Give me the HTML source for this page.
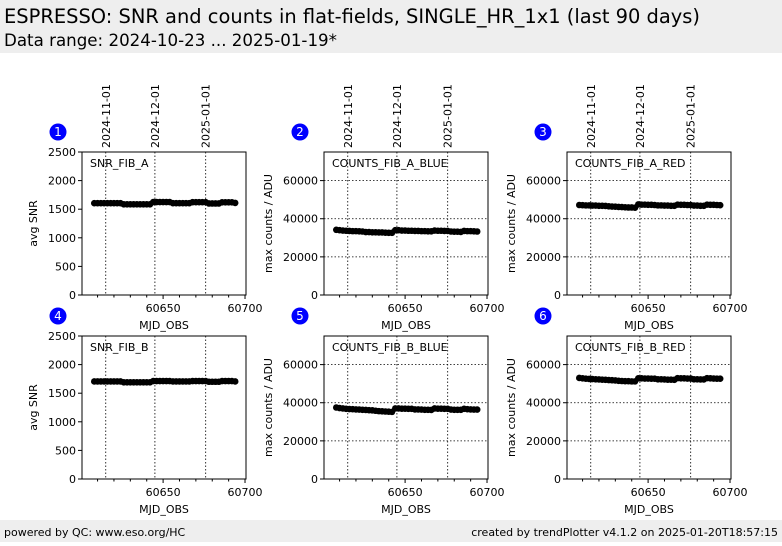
<!DOCTYPE html>
<html><head><meta charset="utf-8"><style>
body{margin:0;width:782px;height:542px;background:#fff;overflow:hidden;font-family:"DejaVu Sans","Liberation Sans",sans-serif}
</style></head><body>
<svg id="page" width="782" height="542" xmlns="http://www.w3.org/2000/svg" font-family="DejaVu Sans, Liberation Sans, sans-serif">
<rect x="0" y="0" width="782" height="53" fill="#eeeeee"/>
<text x="4" y="23" font-size="19.5" textLength="696" lengthAdjust="spacingAndGlyphs">ESPRESSO: SNR and counts in flat-fields, SINGLE_HR_1x1 (last 90 days)</text>
<text x="4" y="46" font-size="16.5" textLength="333" lengthAdjust="spacingAndGlyphs">Data range: 2024-10-23 ... 2025-01-19*</text>
<rect x="0" y="520" width="782" height="22" fill="#eeeeee"/>
<text x="4" y="536" font-size="11">powered by QC: www.eso.org/HC</text>
<text x="778" y="536" font-size="11" text-anchor="end">created by trendPlotter v4.1.2 on 2025-01-20T18:57:15</text>
<g id="panels"></g>
</svg>
<script>
const mjd=[60608,60610,60612,60614,60616,60618,60620,60622,60624,60626,60628,60630,60632,60634,60636,60638,60640,60642,60644,60646,60648,60650,60652,60654,60656,60658,60660,60662,60664,60666,60668,60670,60672,60674,60676,60678,60680,60682,60684,60686,60688,60690,60692,60694];
const snrA=[1605,1605,1605,1605,1605,1605,1605,1605,1605,1585,1585,1585,1585,1585,1585,1585,1585,1585,1625,1625,1625,1625,1625,1625,1605,1605,1605,1605,1605,1605,1622,1622,1622,1622,1622,1600,1600,1600,1600,1620,1620,1620,1620,1610];
const snrB=[1705,1705,1705,1705,1705,1705,1705,1705,1705,1690,1690,1690,1690,1690,1690,1690,1690,1690,1712,1712,1712,1712,1712,1712,1705,1705,1705,1705,1705,1705,1712,1712,1712,1712,1712,1700,1700,1700,1700,1712,1712,1712,1712,1705];
const cAblue=[34200,34000,33800,33700,33600,33500,33500,33400,33300,33000,33000,32900,32900,32800,32800,32700,32600,32600,34000,34000,33800,33800,33700,33700,33600,33600,33500,33500,33400,33400,33800,33700,33700,33600,33600,33300,33200,33200,33100,33600,33500,33500,33400,33300];
const cAred=[47200,47100,47000,47000,46900,46900,46800,46800,46700,46500,46400,46300,46200,46100,46000,45900,45900,45800,47500,47400,47400,47300,47300,47200,47000,47000,46900,46900,46800,46800,47400,47300,47300,47200,47200,46900,46900,46800,46800,47400,47300,47300,47200,47100];
const cBblue=[37500,37200,37000,36800,36700,36600,36500,36400,36300,36200,36100,36000,35800,35600,35500,35400,35300,35200,37000,37000,36900,36900,36800,36800,36500,36500,36400,36300,36300,36200,37000,36900,36900,36800,36800,36400,36300,36300,36300,36800,36600,36500,36400,36400];
const cBred=[53000,52800,52600,52500,52400,52300,52200,52100,52000,51900,51800,51700,51500,51400,51300,51300,51200,51200,52800,52800,52700,52700,52600,52600,52300,52300,52200,52100,52100,52000,52900,52800,52800,52700,52700,52300,52300,52200,52200,52900,52800,52700,52600,52600];
const dateMjd=[60615,60645,60676];
const dateLabels=["2024-11-01","2024-12-01","2025-01-01"];
const xTicks=[60650,60700];
const snrTicks=[0,500,1000,1500,2000,2500];
const cntTicks=[0,20000,40000,60000];
const panels=[
 {n:"1",x:82,y:152,title:"SNR_FIB_A",ylab:"avg SNR",data:snrA,ymax:2500,ticks:snrTicks,hgrid:false,dates:true},
 {n:"2",x:324,y:152,title:"COUNTS_FIB_A_BLUE",ylab:"max counts / ADU",data:cAblue,ymax:75000,ticks:cntTicks,hgrid:true,dates:true},
 {n:"3",x:567,y:152,title:"COUNTS_FIB_A_RED",ylab:"max counts / ADU",data:cAred,ymax:75000,ticks:cntTicks,hgrid:true,dates:true},
 {n:"4",x:82,y:336,title:"SNR_FIB_B",ylab:"avg SNR",data:snrB,ymax:2500,ticks:snrTicks,hgrid:false,dates:false},
 {n:"5",x:324,y:336,title:"COUNTS_FIB_B_BLUE",ylab:"max counts / ADU",data:cBblue,ymax:75000,ticks:cntTicks,hgrid:true,dates:false},
 {n:"6",x:567,y:336,title:"COUNTS_FIB_B_RED",ylab:"max counts / ADU",data:cBred,ymax:75000,ticks:cntTicks,hgrid:true,dates:false}
];
const NS="http://www.w3.org/2000/svg";
const root=document.getElementById('panels');
function mk(tag,attrs,parent,txt){const e=document.createElementNS(NS,tag);for(const k in attrs)e.setAttribute(k,attrs[k]);if(txt!==undefined)e.textContent=txt;parent.appendChild(e);return e;}
const W=164,H=143,XMIN=60600.5,XMAX=60700.6;
panels.forEach(p=>{
 const g=mk('g',{},root);
 
 
 const sx=v=>p.x+(v-XMIN)/(XMAX-XMIN)*W;
 const sy=v=>p.y+H-v/p.ymax*H;
 const c=mk('circle',{cx:p.x-24,cy:p.y-20,r:8.5,fill:'#0000ff'},g);
 
 
 const bt=mk('text',{x:p.x-24,y:p.y-16,'font-size':12,fill:'#fff','text-anchor':'middle'},g,p.n);
 
 
 dateMjd.forEach((d,i)=>{
  const l=mk('line',{x1:sx(d),x2:sx(d),y1:p.y,y2:p.y+H,stroke:'#000','stroke-width':0.8,'stroke-dasharray':'1.5,2'},g);
  
  
  if(p.dates){
   const t=mk('text',{x:0,y:0,'font-size':11,transform:`translate(${sx(d)+4},${p.y-4}) rotate(-90)`},g,dateLabels[i]);
   
   
  }
 });
 if(p.hgrid){p.ticks.forEach(t=>{if(t>0){const l=mk('line',{x1:p.x,x2:p.x+W,y1:sy(t),y2:sy(t),stroke:'#000','stroke-width':0.8,'stroke-dasharray':'1.5,2'},g);
  
  }});}
 p.ticks.forEach(t=>{
  mk('line',{x1:p.x-4,x2:p.x,y1:sy(t),y2:sy(t),stroke:'#000'},g);
  const tx=mk('text',{x:p.x-6,y:sy(t)+4,'font-size':11,'text-anchor':'end'},g,String(t));
  
  
 });
 for(let m=60610;m<=60700;m+=10){mk('line',{x1:sx(m),x2:sx(m),y1:p.y+H,y2:p.y+H+(m%50==0?4:2.5),stroke:'#000'},g);}
 xTicks.forEach(t=>{
  const tx=mk('text',{x:sx(t),y:p.y+H+17,'font-size':11,'text-anchor':'middle'},g,String(t));
  
  
 });
 const xl=mk('text',{x:p.x+W/2,y:p.y+H+34,'font-size':11,'text-anchor':'middle'},g,'MJD_OBS');
 
 
 const yl=mk('text',{x:0,y:0,'font-size':11,'text-anchor':'middle',transform:`translate(${p.x-(p.ymax>3000?52:45)},${p.y+H/2}) rotate(-90)`},g,p.ylab);
 
 
 p.data.forEach((v,i)=>{
  const d=mk('circle',{cx:sx(mjd[i]),cy:sy(v),r:3.3,fill:'#000'},g);
  
  
 });
 const fr=mk('rect',{x:p.x,y:p.y,width:W,height:H,fill:'none',stroke:'#000','stroke-width':1},g);
 
 
 const tt=mk('text',{x:p.x+8,y:p.y+15,'font-size':11},g,p.title);
 
 
});
</script>
</body></html>
